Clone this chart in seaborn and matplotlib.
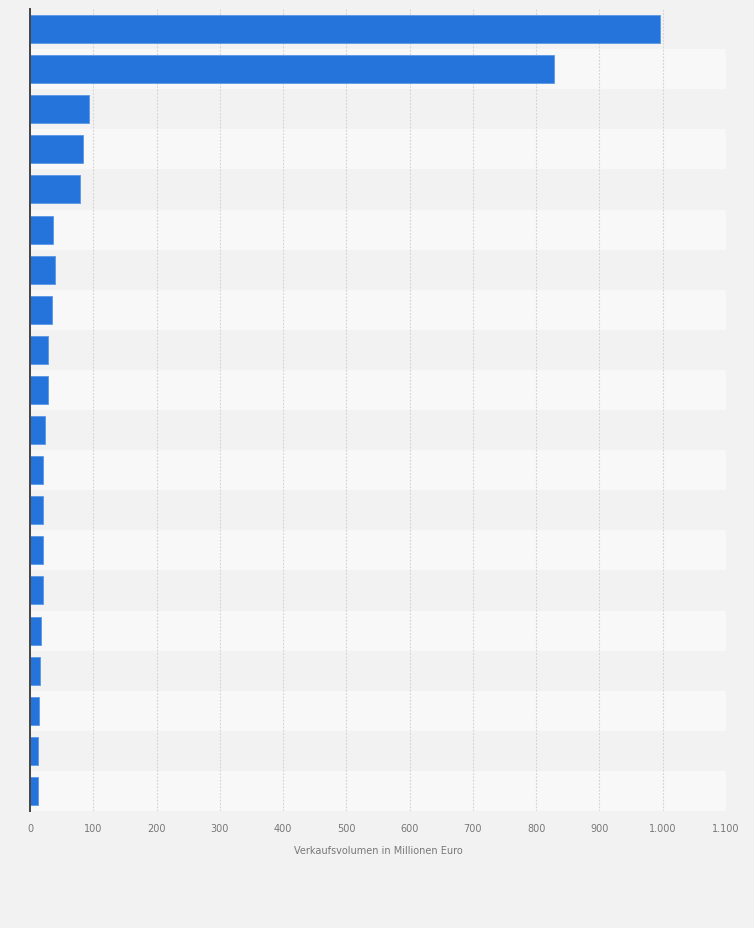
import numpy as np
import matplotlib
matplotlib.use("Agg")
import matplotlib.pyplot as plt
import matplotlib.ticker as mticker
import pandas as pd
import seaborn as sns

# values (no category names are shown in the chart)
ranks = [f"Rang {i}" for i in range(1, 21)]
volumes = [996, 828, 93, 83, 79.5, 37, 39, 34, 29, 28,
           24, 21, 21, 21, 21, 18, 16, 15, 13, 13]
xticks = list(range(0, 1101, 100))
xlabel = "Verkaufsvolumen in Millionen Euro"

df = pd.DataFrame({"rang": ranks, "volumen": volumes})

sns.set_style("white")
plt.rcParams["font.family"] = ["DejaVu Sans"]

fig = plt.figure(figsize=(7.54, 9.29), dpi=100)
fig.patch.set_facecolor("#f2f2f2")
ax = fig.add_axes([30 / 754, (929 - 812) / 929, 696 / 754, 802 / 929])
ax.set_facecolor("#f2f2f2")

# alternating row bands
for i in range(len(ranks)):
    ax.axhspan(i - 0.5, i + 0.5, facecolor="#f2f2f2" if i % 2 == 0 else "#f8f8f8",
               edgecolor="none", zorder=0, lw=0)

sns.barplot(data=df, x="volumen", y="rang", color="#2574db", saturation=1,
            width=0.7, orient="h", ax=ax, zorder=3)
for bar in ax.containers[0]:
    bar.set_edgecolor("#5a97e6")
    bar.set_linewidth(0.6)

ax.set_xlim(0, 1100)
ax.set_ylim(len(ranks) - 0.5, -0.5)
ax.set_xticks(xticks)
ax.xaxis.set_major_formatter(
    mticker.FuncFormatter(lambda v, _: f"{int(v):,}".replace(",", ".")))
ax.tick_params(axis="x", length=0, pad=9, labelsize=7, labelcolor="#777777")
ax.set_yticks([])
ax.set_ylabel("")
ax.set_xlabel(xlabel, fontsize=7, color="#777777", labelpad=8)

ax.grid(axis="x", color="#d2d2d2", linestyle=(0, (1.5, 1.5)), linewidth=0.8, zorder=1)
ax.set_axisbelow(False)
for s in ["top", "right", "bottom"]:
    ax.spines[s].set_visible(False)
ax.spines["left"].set_color("#444444")
ax.spines["left"].set_linewidth(1.4)
ax.spines["left"].set_zorder(4)

fig.savefig("out.png", dpi=100, facecolor=fig.get_facecolor())
